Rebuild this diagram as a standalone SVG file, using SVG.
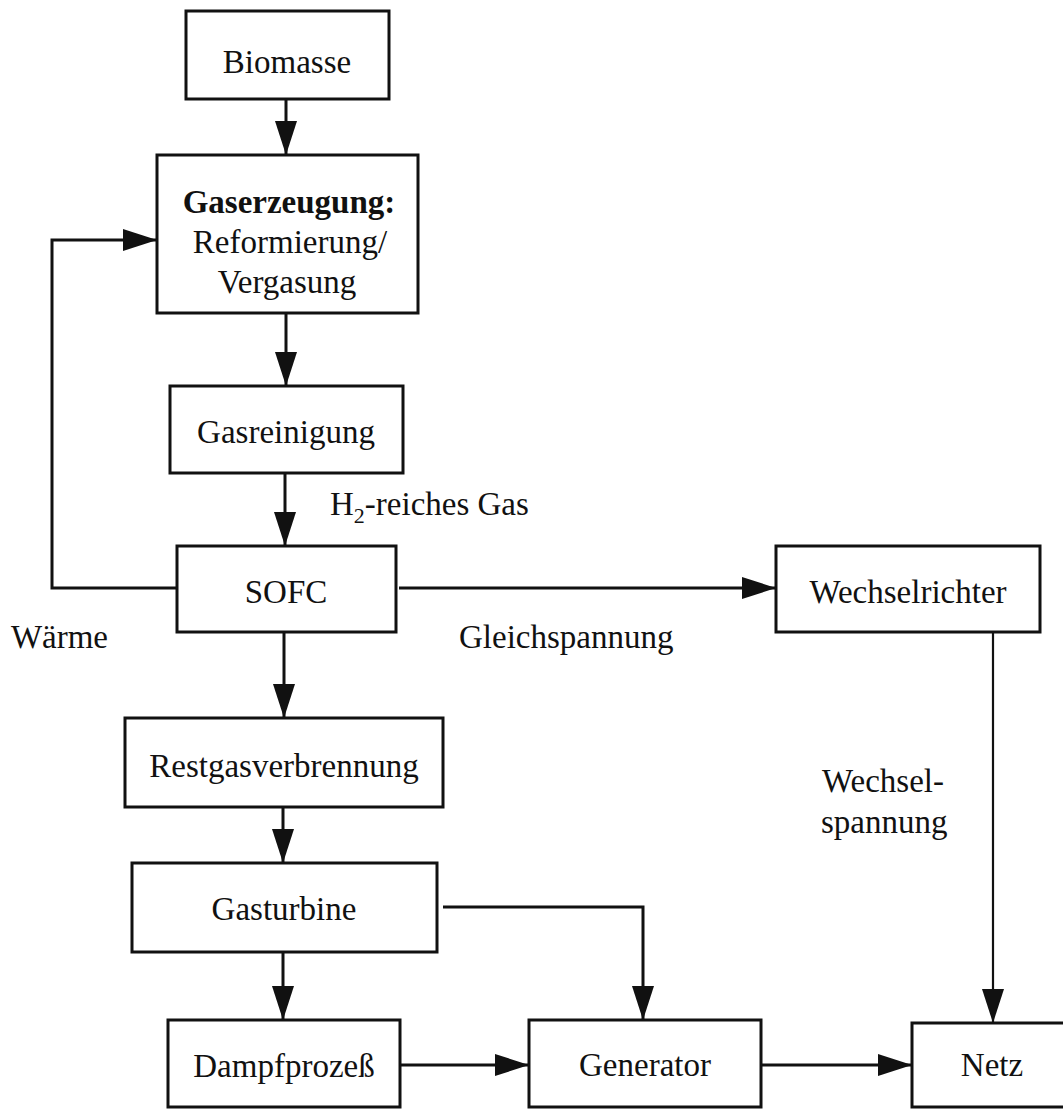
<svg xmlns="http://www.w3.org/2000/svg" width="1063" height="1109" viewBox="0 0 1063 1109">
  <style>
    .box { fill: #ffffff; stroke: #111111; stroke-width: 3; }
    .lbl { font-family: "Liberation Serif", "Times New Roman", serif; font-size: 33px; fill: #111111; }
    .c { text-anchor: middle; }
    .b { font-weight: bold; }
    .con { fill: none; stroke: #111111; stroke-width: 3; }
    .thin { stroke-width: 2.2; }
  </style>
  <defs>
    <marker id="arr" markerUnits="userSpaceOnUse" markerWidth="34" markerHeight="22" refX="34" refY="11" orient="auto">
      <path d="M0,0 L34,11 L0,22 Z" fill="#111111"/>
    </marker>
  </defs>
  <rect width="1063" height="1109" fill="#ffffff"/>

  <g id="connectors">
    <path class="con" d="M286,99 V155" marker-end="url(#arr)"/>
    <path class="con" d="M286,313 V386" marker-end="url(#arr)"/>
    <path class="con" d="M285,473 V546" marker-end="url(#arr)"/>
    <path class="con" d="M177,588 H52 V240 H157" marker-end="url(#arr)"/>
    <path class="con" d="M399,588 H776" marker-end="url(#arr)"/>
    <path class="con" d="M284,632 V718" marker-end="url(#arr)"/>
    <path class="con" d="M283,807 V863" marker-end="url(#arr)"/>
    <path class="con" d="M443,907 H643 V1020" marker-end="url(#arr)"/>
    <path class="con" d="M283,952 V1020" marker-end="url(#arr)"/>
    <path class="con" d="M400,1065 H529" marker-end="url(#arr)"/>
    <path class="con" d="M761,1065 H912" marker-end="url(#arr)"/>
    <path class="con thin" d="M993,632 V1023" marker-end="url(#arr)"/>
  </g>

  <g id="node-biomasse">
    <rect class="box" x="186" y="11" width="203" height="88"/>
    <text class="lbl c" x="287" y="73">Biomasse</text>
  </g>
  <g id="node-gaserzeugung">
    <rect class="box" x="157" y="155" width="261" height="158"/>
    <text class="lbl c b" x="289" y="213">Gaserzeugung:</text>
    <text class="lbl c" x="290" y="253">Reformierung/</text>
    <text class="lbl c" x="287" y="293">Vergasung</text>
  </g>
  <g id="node-gasreinigung">
    <rect class="box" x="170" y="386" width="233" height="87"/>
    <text class="lbl c" x="286" y="443">Gasreinigung</text>
  </g>
  <g id="node-sofc">
    <rect class="box" x="177" y="546" width="219" height="86"/>
    <text class="lbl c" x="286" y="603">SOFC</text>
  </g>
  <g id="node-wechselrichter">
    <rect class="box" x="776" y="546" width="264" height="86"/>
    <text class="lbl c" x="908" y="603">Wechselrichter</text>
  </g>
  <g id="node-restgasverbrennung">
    <rect class="box" x="125" y="718" width="318" height="89"/>
    <text class="lbl c" x="284" y="777">Restgasverbrennung</text>
  </g>
  <g id="node-gasturbine">
    <rect class="box" x="132" y="863" width="305" height="89"/>
    <text class="lbl c" x="284" y="920">Gasturbine</text>
  </g>
  <g id="node-dampfprozess">
    <rect class="box" x="168" y="1020" width="232" height="87"/>
    <text class="lbl c" x="284" y="1077">Dampfprozeß</text>
  </g>
  <g id="node-generator">
    <rect class="box" x="529" y="1020" width="232" height="87"/>
    <text class="lbl c" x="645" y="1076">Generator</text>
  </g>
  <g id="node-netz">
    <rect class="box" x="912" y="1023" width="170" height="84"/>
    <text class="lbl c" x="992" y="1076">Netz</text>
  </g>

  <g id="labels">
    <text class="lbl" x="330" y="515">H<tspan font-size="22" dy="8">2</tspan><tspan dy="-8">-reiches Gas</tspan></text>
    <text class="lbl" x="108" y="648" text-anchor="end">Wärme</text>
    <text class="lbl" x="459" y="648">Gleichspannung</text>
    <text class="lbl" x="822" y="792">Wechsel-</text>
    <text class="lbl" x="821" y="833">spannung</text>
  </g>
</svg>
